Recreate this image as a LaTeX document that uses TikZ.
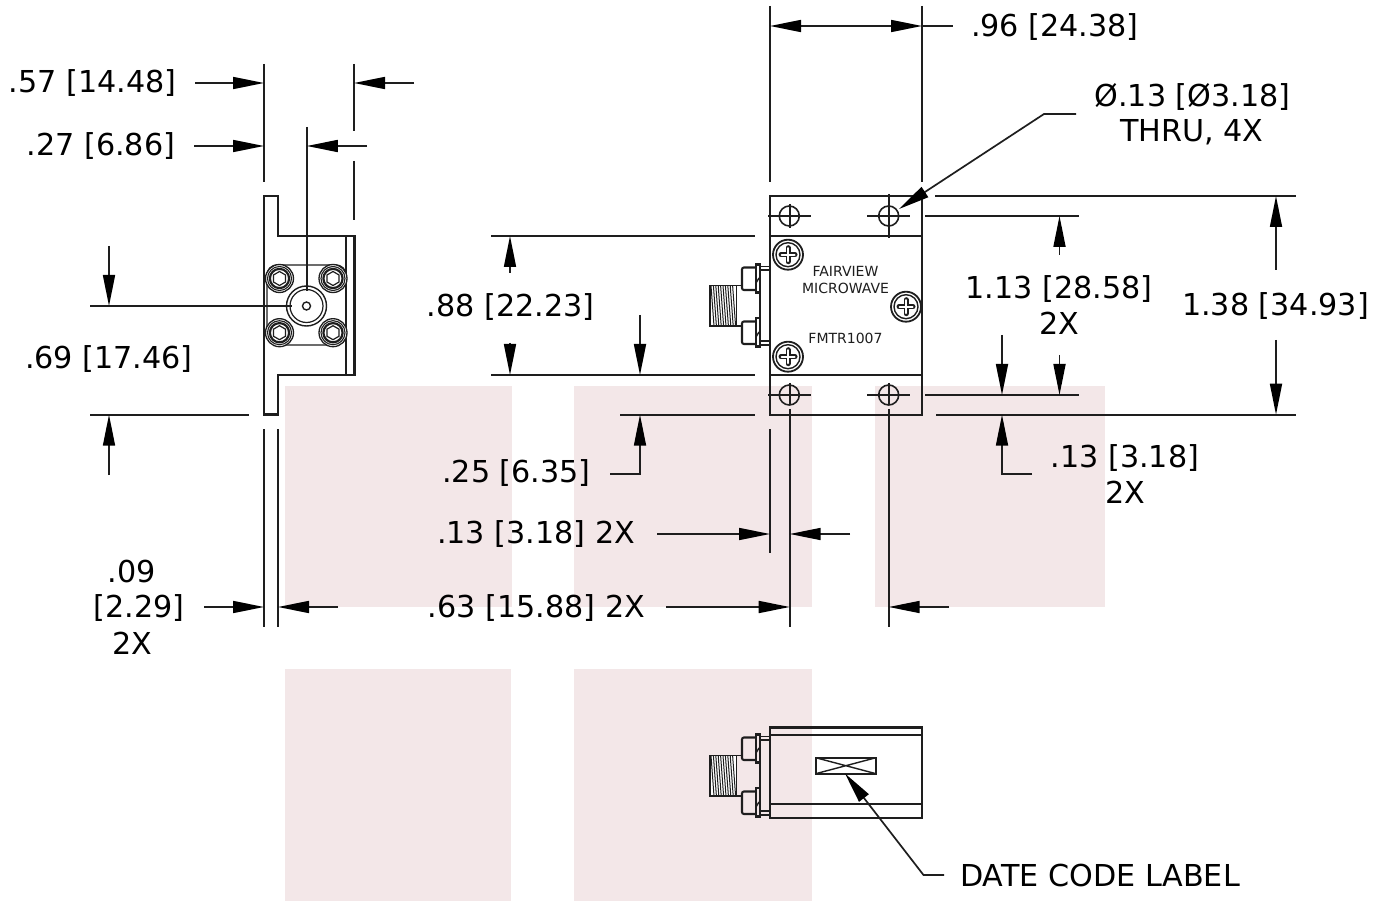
\documentclass[tikz,border=0pt]{standalone}
\usepackage{fontspec}
\setmainfont{DejaVu Sans}
\usetikzlibrary{arrows.meta}
\definecolor{blk}{HTML}{1E1E1E}
\definecolor{pinkbg}{HTML}{F3E7E8}
\newcommand{\DimArrow}[3]{%
  \coordinate (#1-s) at (#2);\coordinate (#1-t) at (#3);
  \draw[dimline,arr] (#1-s) -- (#1-t);}
\newcommand{\ElbowArrow}[4]{%
  \coordinate (#1-s) at (#2);\coordinate (#1-e) at (#3);\coordinate (#1-t) at (#4);
  \draw[dimline,arr] (#1-s) -- (#1-e) -- (#1-t);}
\tikzset{
  arr/.style={-{Triangle[length=31pt,width=12pt,color=black]}},
  dimline/.style={draw=blk,line width=1.7pt},
  extline/.style={draw=blk,line width=1.8pt},
  outline/.style={draw=blk,line width=2.1pt,line join=miter},
  thin part/.style={draw=blk,line width=1.4pt},
  lbl/.style={font=\fontsize{30.2}{30}\selectfont,text=black,inner sep=0pt,anchor=base},
  small/.style={font=\fontsize{14}{14}\selectfont,text=blk,inner sep=0pt,anchor=base},
  pics/phillips/.style={code={
    \draw[blk,line width=1.8pt,fill=white] (0,0) circle (15);
    \draw[blk,line width=1.4pt] (0,0) circle (12);
    \draw[blk,line width=5pt,line cap=round] (-7,0)--(7,0) (0,-7)--(0,7);
    \draw[white,line width=2pt,line cap=round] (-6.5,0)--(6.5,0) (0,-6.5)--(0,6.5);
  }},
  pics/hole/.style={code={
    \draw[blk,line width=1.6pt] (0,0) circle (10);
  }},
  pics/socket/.style={code={
    \draw[blk,line width=1.3pt,fill=white] (0,0) circle (14);
    \draw[blk,line width=1.1pt] (0,0) circle (12);
    \draw[blk,line width=2.2pt] (0,0) circle (9.6);
    \draw[blk,line width=1.2pt] (30:7)--(90:7)--(150:7)--(210:7)--(270:7)--(330:7)--cycle;
  }},
  pics/sma/.style={code={
    \draw[thin part,fill=white] (710,285.5) rectangle (736.5,326);
    \foreach \i in {711,713.4,...,733.5} \draw[blk,line width=1pt] (\i,285.5)--(\i+3,326);
    \draw[thin part] (736.5,285.5)--(742,285.5) (736.5,326)--(742,326);
    \draw[outline,rounded corners=2pt] (756,267.5)--(742,267.5)--(742,290)--(756,290);
    \draw[outline,rounded corners=2pt] (756,321.5)--(742,321.5)--(742,344)--(756,344);
    \draw[outline] (756,264.5) rectangle (760,292.5);
    \draw[outline] (756,318) rectangle (760,346.5);
    \draw[thin part] (756,283)--(759,278) (756,337)--(759,332);
    \draw[thin part] (760,292.5)--(760,318);
    \draw[thin part] (760,266.5)--(770,266.5) (760,270)--(770,270);
    \draw[thin part] (760,341)--(770,341) (760,345)--(770,345);
  }},
}
\begin{document}
\begin{tikzpicture}[x=1pt,y=-1pt]
\useasboundingbox (0,0) rectangle (1385,901);
\fill[white] (0,0) rectangle (1385,901);
% tinted panels
\fill[pinkbg] (285,386) rectangle (512,607);
\fill[pinkbg] (574,386) rectangle (812,607);
\fill[pinkbg] (875,386) rectangle (1105,607);
\fill[pinkbg] (285,669) rectangle (511,901);
\fill[pinkbg] (574,669) rectangle (812,901);

% ---------- left (end) view
\draw[outline] (264,196)--(278,196)--(278,236)--(354.5,236)--(354.5,375)--(278,375)--(278,414.5)--(264,414.5)--cycle;
\draw[thin part] (346,236)--(346,375);
\draw[thin part,rounded corners=10pt] (267,265) rectangle (346,345);
\pic at (279.5,278.5) {socket};
\pic at (333,278.5) {socket};
\pic at (279.5,332.7) {socket};
\pic at (333,332.7) {socket};
\draw[blk,line width=1.4pt,fill=white] (306.5,306) circle (20);
\draw[blk,line width=1.2pt] (306.5,306) circle (16.5);
\draw[blk,line width=1.4pt] (306.5,306) circle (4);
\coordinate (cv-a) at (306.8,127);\coordinate (cv-b) at (306.8,291);
\draw[extline] (cv-a)--(cv-b);
\coordinate (ch-a) at (90,306);\coordinate (ch-b) at (292,306);
\draw[extline] (ch-a)--(ch-b);
\draw[extline] (264,64)--(264,182);
\draw[extline] (354,64)--(354,131);
\draw[extline] (354,161)--(354,220);
\draw[extline] (90,414.7)--(249,414.7);
\draw[extline] (264,429)--(264,627);
\draw[extline] (278,429)--(278,627);
\DimArrow{a57l}{195,83}{264,83}
\DimArrow{a57r}{414,83}{354,83}
\DimArrow{a27l}{194,146}{264,146}
\DimArrow{a27r}{367,146}{306.8,146}
\DimArrow{a69t}{109,246}{109,306}
\DimArrow{a69b}{109,475}{109,414.7}
\DimArrow{a09l}{204,607}{264,607}
\DimArrow{a09r}{338,607}{278,607}
\node[lbl] (t57) at (92.5,93) {.57 [14.48]};
\node[lbl] (t27) at (101,155.5) {.27 [6.86]};
\node[lbl] (t69) at (109,369) {.69 [17.46]};
\node[lbl] (t09a) at (132,582.5) {.09};
\node[lbl] (t09b) at (139,617.5) {[2.29]};
\node[lbl] (t09c) at (132.5,654.5) {2X};

% ---------- main (top) view
\draw[outline] (770,196) rectangle (922,414.7);
\draw[outline] (770,236)--(922,236) (770,375)--(922,375);
\pic at (789.3,216) {hole};
\pic at (888.7,216) {hole};
\pic at (789.3,395) {hole};
\pic at (888.7,395) {hole};
\draw[extline] (768,216)--(811,216) (789.7,204)--(789.7,228);
\draw[extline] (867,216)--(910,216) (888.7,194)--(888.7,238);
\draw[extline] (768,395)--(811,395) (789.7,383)--(789.7,405);
\draw[extline] (867,395)--(910,395) (888.7,383)--(888.7,405);
\pic at (788,254.7) {phillips};
\pic at (788,356.7) {phillips};
\pic at (906,306.7) {phillips};
\pic at (0,0) {sma};
\node[small] (fv) at (845.5,277) {FAIRVIEW};
\node[small] (mw) at (845.5,294) {MICROWAVE};
\node[small] (fm) at (845.5,344) {FMTR1007};

% extension lines, main view
\draw[extline] (770,6)--(770,182);
\draw[extline] (922,6)--(922,182);
\draw[extline] (922,26)--(953,26);
\draw[extline] (935,196)--(1296,196);
\draw[extline] (925,216)--(1079,216);
\draw[extline] (925,395)--(1079,395);
\draw[extline] (936,414.7)--(1296,414.7);
\draw[extline] (491,236)--(755,236);
\draw[extline] (491,375)--(755,375);
\draw[extline] (620,414.7)--(755,414.7);
\draw[extline] (770,429)--(770,553);
\draw[extline] (789.7,409)--(789.7,627);
\draw[extline] (888.7,409)--(888.7,627);

\DimArrow{a96l}{850,26}{770,26}
\DimArrow{a96r}{850,26}{922,26}
\ElbowArrow{ahole}{1076,114}{1044,114}{899,209}
\DimArrow{a113t}{1059.5,255}{1059.5,216}
\DimArrow{a113b}{1059.5,355}{1059.5,395}
\DimArrow{a138t}{1276,270}{1276,196}
\DimArrow{a138b}{1276,340}{1276,414.7}
\DimArrow{a13d}{1002,335}{1002,395}
\ElbowArrow{a13u}{1032,474}{1002,474}{1002,414.7}
\DimArrow{a88t}{510,273}{510,236}
\DimArrow{a88b}{510,343}{510,375}
\DimArrow{a25d}{640,315}{640,375}
\ElbowArrow{a25u}{610,474}{640,474}{640,414.7}
\DimArrow{a13l}{657,534}{770,534}
\DimArrow{a13r}{850,534}{789.7,534}
\DimArrow{a63l}{666,607}{789.7,607}
\DimArrow{a63r}{949,607}{888.7,607}

\node[lbl] (t96) at (1055,36.5) {.96 [24.38]};
\node[lbl] (tdia) at (1192.5,107) {Ø.13 [Ø3.18]};
\node[lbl] (tthru) at (1192,142) {THRU, 4X};
\node[lbl] (t113) at (1059,298.5) {1.13 [28.58]};
\node[lbl] (t113x) at (1059,334.5) {2X};
\node[lbl] (t138) at (1275.5,315.5) {1.38 [34.93]};
\node[lbl] (t13) at (1125,467) {.13 [3.18]};
\node[lbl] (t13x) at (1125,503) {2X};
\node[lbl] (t88) at (510.5,317) {.88 [22.23]};
\node[lbl] (t25) at (516.5,482.5) {.25 [6.35]};
\node[lbl] (t13h) at (536,543) {.13 [3.18] 2X};
\node[lbl] (t63) at (536.5,617) {.63 [15.88] 2X};

% ---------- bottom view
\draw[outline] (770,727.5) rectangle (922,818);
\draw[outline] (770,735)--(922,735) (770,804)--(922,804);
\begin{scope}[shift={(0,470)}]
\pic at (0,0) {sma};
\end{scope}
\draw[outline] (815.7,757.7) rectangle (876,773.7);
\draw[thin part] (815.7,757.7)--(876,773.7) (815.7,773.7)--(876,757.7);
\ElbowArrow{adate}{944,875}{923.5,875}{845,773.5}
\node[lbl] (tdate) at (1100,886) {DATE CODE LABEL};
\end{tikzpicture}
\end{document}
